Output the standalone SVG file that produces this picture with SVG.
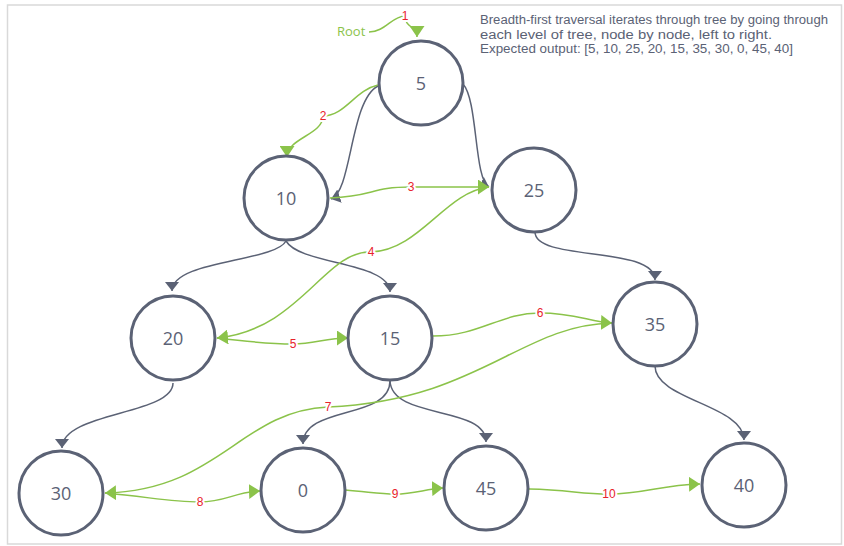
<svg xmlns="http://www.w3.org/2000/svg" width="844" height="546" viewBox="0 0 844 546">
<defs>
<style>
.frame{fill:#fff;stroke:#d9d9d9;stroke-width:1.5}
.node circle{fill:#fff;stroke:#5b6275;stroke-width:3}
.node text{font-family:"Open Sans","Liberation Sans",sans-serif;font-size:18px;fill:#5b6275;text-anchor:middle}
.tree{fill:none;stroke:#5b6275;stroke-width:1.5;marker-end:url(#ga)}
.bfs{fill:none;stroke:#8bc34a;stroke-width:1.5;marker-end:url(#gr)}
.lbl{font-family:"Liberation Sans",sans-serif;font-size:12px;fill:#e8222b;text-anchor:middle;stroke:#fff;stroke-width:4;paint-order:stroke;stroke-linejoin:round}
.desc{font-family:"Liberation Sans",sans-serif;font-size:12.5px;fill:#5b6275}
</style>
<marker id="ga" markerUnits="userSpaceOnUse" markerWidth="9" markerHeight="14" viewBox="0 0 9 14" refX="9" refY="7" orient="auto"><path d="M0,0 L9,7 L0,14 z" fill="#5b6275"/></marker>
<marker id="gr" markerUnits="userSpaceOnUse" markerWidth="11" markerHeight="15" viewBox="0 0 11 15" refX="11" refY="7.5" orient="auto"><path d="M0,0 L11,7.5 L0,15 z" fill="#8bc34a"/></marker>
</defs>
<rect class="frame" x="7.5" y="5" width="834" height="539"/>
<text class="desc" x="480" y="23.5" textLength="348" lengthAdjust="spacingAndGlyphs">Breadth-first traversal iterates through tree by going through</text>
<text class="desc" x="480" y="38.5" textLength="292" lengthAdjust="spacingAndGlyphs">each level of tree, node by node, left to right.</text>
<text class="desc" x="480" y="53" textLength="313" lengthAdjust="spacingAndGlyphs">Expected output: [5, 10, 25, 20, 15, 35, 30, 0, 45, 40]</text>
<g id="connectors">
<path class="tree" d="M378,86 C350,100 352,192 331,199"/>
<path class="tree" d="M463,84 C478,100 474,180 489,187"/>
<path class="tree" d="M286,241 C275,262 172,260 172,291"/>
<path class="tree" d="M286,241 C300,265 390,262 390,292"/>
<path class="tree" d="M535,232 C535,262 655,245 655,280"/>
<path class="tree" d="M173,383 C173,415 62,412 62,448"/>
<path class="tree" d="M390,381 C390,420 303,405 303,444"/>
<path class="tree" d="M390,381 C392,420 486,405 486,442"/>
<path class="tree" d="M655,366 C655,400 744,405 744,440"/>
<path class="bfs" d="M369,32 C385,32 392,16 405,16 C405,28 417,26 417,37"/>
<path class="bfs" d="M378,85 C355,90 345,116 323,116 C323,135 287,138 287,157"/>
<path class="bfs" d="M330,198 C375,196 370,187 411,187 L489,187"/>
<path class="bfs" d="M489,187 C445,192 420,250 371,252 C325,250 300,330 217,338"/>
<path class="bfs" d="M217,338 C250,342 270,344 293,344 C315,344 325,338 348,338"/>
<path class="bfs" d="M433,336 C480,336 500,313 540,313 C575,313 590,322 612,323"/>
<path class="bfs" d="M612,323 C520,325 480,400 328,407 C240,411 220,490 105,493"/>
<path class="bfs" d="M105,493 C150,497 170,502 200,502 C225,502 235,492 260,491"/>
<path class="bfs" d="M345,490 C370,492 380,494 395,494 C415,494 425,489 443,488"/>
<path class="bfs" d="M529,489 C570,490 580,494 609,494 C645,494 660,485 700,484"/>
<text x="337" y="35.5" font-family="Open Sans, Liberation Sans, sans-serif" font-size="13" fill="#8bc34a">Root</text>
<text class="lbl" x="405" y="20">1</text>
<text class="lbl" x="323" y="120">2</text>
<text class="lbl" x="411" y="191">3</text>
<text class="lbl" x="371" y="256">4</text>
<text class="lbl" x="293" y="348">5</text>
<text class="lbl" x="540" y="317">6</text>
<text class="lbl" x="328" y="411">7</text>
<text class="lbl" x="200" y="506">8</text>
<text class="lbl" x="395" y="498">9</text>
<text class="lbl" x="609" y="498">10</text>
</g>
<g id="node-5" class="node"><circle cx="421" cy="83" r="42"/><text x="421" y="90">5</text></g>
<g id="node-10" class="node"><circle cx="286" cy="198" r="42"/><text x="286" y="205">10</text></g>
<g id="node-25" class="node"><circle cx="534" cy="190" r="42"/><text x="534" y="197">25</text></g>
<g id="node-20" class="node"><circle cx="173" cy="338" r="42"/><text x="173" y="345">20</text></g>
<g id="node-15" class="node"><circle cx="390" cy="338" r="42"/><text x="390" y="345">15</text></g>
<g id="node-35" class="node"><circle cx="655" cy="324" r="42"/><text x="655" y="331">35</text></g>
<g id="node-30" class="node"><circle cx="61" cy="493" r="42"/><text x="61" y="500">30</text></g>
<g id="node-0" class="node"><circle cx="303" cy="490" r="42"/><text x="303" y="497">0</text></g>
<g id="node-45" class="node"><circle cx="486" cy="488" r="42"/><text x="486" y="495">45</text></g>
<g id="node-40" class="node"><circle cx="744" cy="485" r="42"/><text x="744" y="492">40</text></g>
</svg>
